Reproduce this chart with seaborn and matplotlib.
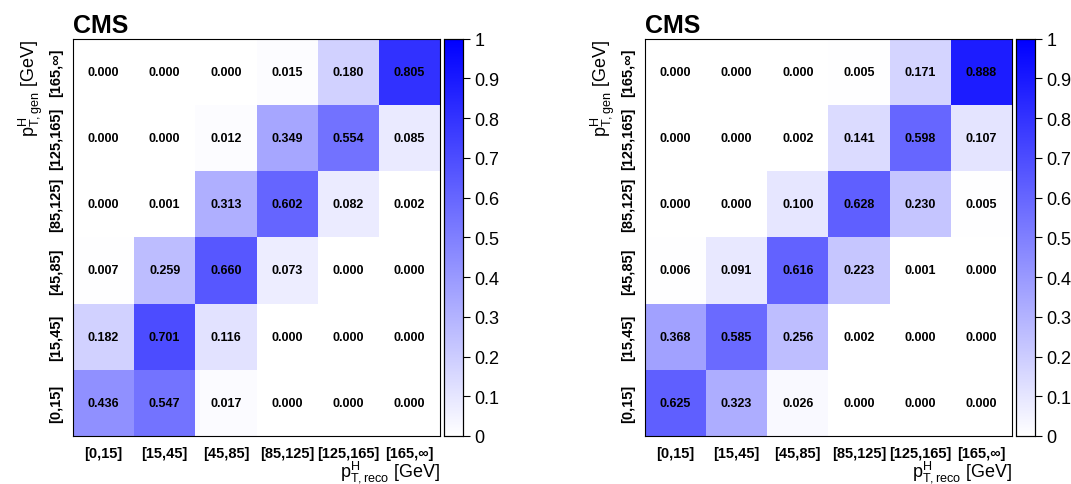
import numpy as np
import pandas as pd
import matplotlib
matplotlib.use("Agg")
import matplotlib.pyplot as plt
import seaborn as sns
from matplotlib.colors import LinearSegmentedColormap

plt.rcParams['font.family'] = ['Liberation Sans', 'DejaVu Sans']
plt.rcParams['mathtext.fontset'] = 'custom'
plt.rcParams['mathtext.rm'] = 'Liberation Sans'
plt.rcParams['mathtext.it'] = 'Liberation Sans'

bins = ['[0,15]', '[15,45]', '[45,85]', '[85,125]', '[125,165]', '[165,\u221e]']

# rows: gen bin (bottom to top), columns: reco bin
left_vals = [
    [0.436, 0.547, 0.017, 0.000, 0.000, 0.000],
    [0.182, 0.701, 0.116, 0.000, 0.000, 0.000],
    [0.007, 0.259, 0.660, 0.073, 0.000, 0.000],
    [0.000, 0.001, 0.313, 0.602, 0.082, 0.002],
    [0.000, 0.000, 0.012, 0.349, 0.554, 0.085],
    [0.000, 0.000, 0.000, 0.015, 0.180, 0.805],
]
right_vals = [
    [0.625, 0.323, 0.026, 0.000, 0.000, 0.000],
    [0.368, 0.585, 0.256, 0.002, 0.000, 0.000],
    [0.006, 0.091, 0.616, 0.223, 0.001, 0.000],
    [0.000, 0.000, 0.100, 0.628, 0.230, 0.005],
    [0.000, 0.000, 0.002, 0.141, 0.598, 0.107],
    [0.000, 0.000, 0.000, 0.005, 0.171, 0.888],
]

cmap = LinearSegmentedColormap.from_list('wb', ['#ffffff', '#0000ff'])

fig = plt.figure(figsize=(10.71, 4.85), dpi=100)
panels = [(left_vals, 0.068, 0.415), (right_vals, 0.602, 0.949)]

for vals, x0, cx in panels:
    ax = fig.add_axes([x0, 0.099, 0.343, 0.819])
    cax = fig.add_axes([cx, 0.099, 0.017, 0.819])
    df = pd.DataFrame(vals[::-1], index=bins[::-1], columns=bins)
    sns.heatmap(df, ax=ax, cbar_ax=cax, cmap=cmap, vmin=0, vmax=1,
                annot=True, fmt='.3f',
                annot_kws={'fontsize': 9, 'fontweight': 'bold', 'color': 'black'})
    for s in ax.spines.values():
        s.set_visible(True)
        s.set_linewidth(0.8)
    ax.set_xticklabels(bins, fontsize=10.5, fontweight='bold', rotation=0)
    ax.set_yticklabels(bins[::-1], fontsize=10.5, fontweight='bold', rotation=90, va='center')
    ax.tick_params(length=0, pad=7)
    ax.set_xlabel(r'$\mathregular{p_{T,reco}^{H}}$ [GeV]', fontsize=13, loc='right', labelpad=-1)
    ax.set_ylabel(r'$\mathregular{p_{T,gen}^{H}}$ [GeV]', fontsize=13, loc='top', labelpad=3)
    ax.text(0.0, 1.005, 'CMS', transform=ax.transAxes, fontsize=18,
            fontweight='bold', ha='left', va='bottom')
    cax.set_yticks(np.arange(0, 1.01, 0.1))
    cax.set_yticklabels(['0', '0.1', '0.2', '0.3', '0.4', '0.5', '0.6', '0.7', '0.8', '0.9', '1'])
    cax.tick_params(labelsize=13, length=5)
    for s in cax.spines.values():
        s.set_visible(True)
        s.set_linewidth(0.8)

fig.savefig('out.png', dpi=100)
